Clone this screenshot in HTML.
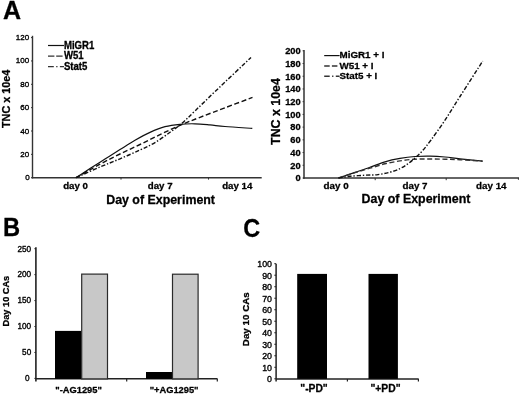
<!DOCTYPE html>
<html><head><meta charset="utf-8"><title>Figure</title>
<style>
html,body{margin:0;padding:0;background:#fff;}
body{width:520px;height:395px;overflow:hidden;}
svg{display:block;font-family:"Liberation Sans", sans-serif;filter:grayscale(1) blur(0.3px);}
svg text{fill:#000;stroke:#000;stroke-width:0.28px;stroke-linejoin:round;}
</style></head>
<body>
<svg width="520" height="395" viewBox="0 0 520 395">
<rect x="0" y="0" width="520" height="395" fill="#fff"/>
<text x="3.00" y="19.20" font-size="25.00" font-weight="bold" text-anchor="start">A</text>
<line x1="32.50" y1="35.80" x2="32.50" y2="178.40" stroke="#333" stroke-width="1.40"/>
<line x1="31.80" y1="177.70" x2="261.70" y2="177.70" stroke="#333" stroke-width="1.40"/>
<line x1="31.00" y1="177.70" x2="32.50" y2="177.70" stroke="#333" stroke-width="1.00"/>
<text x="29.60" y="180.42" font-size="8.00" font-weight="normal" text-anchor="end" style="stroke-width:0.35px">0</text>
<line x1="31.00" y1="154.35" x2="32.50" y2="154.35" stroke="#333" stroke-width="1.00"/>
<text x="29.20" y="156.96" font-size="8.00" font-weight="normal" text-anchor="end" style="stroke-width:0.35px">20</text>
<line x1="31.00" y1="131.00" x2="32.50" y2="131.00" stroke="#333" stroke-width="1.00"/>
<text x="29.20" y="133.50" font-size="8.00" font-weight="normal" text-anchor="end" style="stroke-width:0.35px">40</text>
<line x1="31.00" y1="107.65" x2="32.50" y2="107.65" stroke="#333" stroke-width="1.00"/>
<text x="29.20" y="110.03" font-size="8.00" font-weight="normal" text-anchor="end" style="stroke-width:0.35px">60</text>
<line x1="31.00" y1="84.30" x2="32.50" y2="84.30" stroke="#333" stroke-width="1.00"/>
<text x="29.20" y="86.57" font-size="8.00" font-weight="normal" text-anchor="end" style="stroke-width:0.35px">80</text>
<line x1="31.00" y1="60.95" x2="32.50" y2="60.95" stroke="#333" stroke-width="1.00"/>
<text x="29.20" y="63.10" font-size="8.00" font-weight="normal" text-anchor="end" style="stroke-width:0.35px">100</text>
<line x1="31.00" y1="37.60" x2="32.50" y2="37.60" stroke="#333" stroke-width="1.00"/>
<text x="29.20" y="39.64" font-size="8.00" font-weight="normal" text-anchor="end" style="stroke-width:0.35px">120</text>
<line x1="121.00" y1="177.70" x2="121.00" y2="179.60" stroke="#333" stroke-width="1.00"/>
<line x1="208.50" y1="177.70" x2="208.50" y2="179.60" stroke="#333" stroke-width="1.00"/>
<text x="75.60" y="189.20" font-size="9.70" font-weight="bold" text-anchor="middle">day 0</text>
<text x="160.20" y="189.20" font-size="9.70" font-weight="bold" text-anchor="middle">day 7</text>
<text x="237.30" y="189.20" font-size="9.70" font-weight="bold" text-anchor="middle">day 14</text>
<text x="160.60" y="204.20" font-size="12.40" font-weight="bold" text-anchor="middle">Day of Experiment</text>
<text x="0" y="0" font-size="10.80" font-weight="bold" text-anchor="middle" transform="translate(10.40,98.90) rotate(-90)">TNC x 10e4</text>
<line x1="48.00" y1="45.50" x2="64.00" y2="45.50" stroke="#111" stroke-width="1.20"/>
<line x1="48.00" y1="56.10" x2="64.00" y2="56.10" stroke="#333" stroke-width="1.40" stroke-dasharray="6.4,1.8"/>
<line x1="48.00" y1="66.60" x2="64.00" y2="66.60" stroke="#333" stroke-width="1.40" stroke-dasharray="5.8,2.4,1.3,2.4"/>
<text x="0" y="0" font-size="9.60" font-weight="bold" text-anchor="start" transform="translate(63.90,48.50) scale(1.000,1.060)">MiGR1</text>
<text x="0" y="0" font-size="9.60" font-weight="bold" text-anchor="start" transform="translate(63.90,59.40) scale(1.000,1.060)">W51</text>
<text x="0" y="0" font-size="9.60" font-weight="bold" text-anchor="start" transform="translate(63.90,70.10) scale(1.000,1.060)">Stat5</text>
<path d="M76.00,177.70 C78.33,176.18 85.17,171.70 90.00,168.60 C94.83,165.50 100.00,162.27 105.00,159.10 C110.00,155.93 115.00,152.73 120.00,149.60 C125.00,146.47 130.00,143.17 135.00,140.30 C140.00,137.43 145.00,134.67 150.00,132.40 C155.00,130.13 160.00,128.05 165.00,126.70 C170.00,125.35 175.00,124.78 180.00,124.30 C185.00,123.82 190.00,123.70 195.00,123.80 C200.00,123.90 205.00,124.45 210.00,124.90 C215.00,125.35 217.95,125.92 225.00,126.50 C232.05,127.08 247.75,128.08 252.30,128.40" fill="none" stroke="#111" stroke-width="1.2"/>
<path d="M76.00,177.70 C80.00,175.45 92.67,168.15 100.00,164.20 C107.33,160.25 113.33,157.28 120.00,154.00 C126.67,150.72 133.33,147.73 140.00,144.50 C146.67,141.27 153.33,137.80 160.00,134.60 C166.67,131.40 173.33,128.18 180.00,125.30 C186.67,122.42 192.50,120.22 200.00,117.30 C207.50,114.38 216.25,111.12 225.00,107.80 C233.75,104.48 247.92,99.13 252.50,97.40" fill="none" stroke="#111" stroke-width="1.4" stroke-dasharray="5,2.6"/>
<path d="M76.00,177.70 C80.00,175.92 92.67,170.15 100.00,167.00 C107.33,163.85 113.33,161.63 120.00,158.80 C126.67,155.97 134.17,152.70 140.00,150.00 C145.83,147.30 150.00,145.55 155.00,142.60 C160.00,139.65 165.50,135.52 170.00,132.30 C174.50,129.08 177.83,126.87 182.00,123.30 C186.17,119.73 189.50,116.18 195.00,110.90 C200.50,105.62 205.67,100.52 215.00,91.60 C224.33,82.68 245.00,63.10 251.00,57.40" fill="none" stroke="#111" stroke-width="1.4" stroke-dasharray="4.2,1.8,1.4,1.8"/>
<line x1="304.00" y1="50.00" x2="304.00" y2="178.80" stroke="#555" stroke-width="1.80"/>
<line x1="303.20" y1="178.00" x2="519.00" y2="178.00" stroke="#333" stroke-width="1.60"/>
<line x1="302.60" y1="178.00" x2="304.00" y2="178.00" stroke="#333" stroke-width="1.00"/>
<text x="300.70" y="181.33" font-size="9.30" font-weight="bold" text-anchor="end">0</text>
<line x1="302.60" y1="165.28" x2="304.00" y2="165.28" stroke="#333" stroke-width="1.00"/>
<text x="300.70" y="168.61" font-size="9.30" font-weight="bold" text-anchor="end">20</text>
<line x1="302.60" y1="152.56" x2="304.00" y2="152.56" stroke="#333" stroke-width="1.00"/>
<text x="300.70" y="155.89" font-size="9.30" font-weight="bold" text-anchor="end">40</text>
<line x1="302.60" y1="139.84" x2="304.00" y2="139.84" stroke="#333" stroke-width="1.00"/>
<text x="300.70" y="143.17" font-size="9.30" font-weight="bold" text-anchor="end">60</text>
<line x1="302.60" y1="127.12" x2="304.00" y2="127.12" stroke="#333" stroke-width="1.00"/>
<text x="300.70" y="130.45" font-size="9.30" font-weight="bold" text-anchor="end">80</text>
<line x1="302.60" y1="114.40" x2="304.00" y2="114.40" stroke="#333" stroke-width="1.00"/>
<text x="300.70" y="117.73" font-size="9.30" font-weight="bold" text-anchor="end">100</text>
<line x1="302.60" y1="101.68" x2="304.00" y2="101.68" stroke="#333" stroke-width="1.00"/>
<text x="300.70" y="105.01" font-size="9.30" font-weight="bold" text-anchor="end">120</text>
<line x1="302.60" y1="88.96" x2="304.00" y2="88.96" stroke="#333" stroke-width="1.00"/>
<text x="300.70" y="92.29" font-size="9.30" font-weight="bold" text-anchor="end">140</text>
<line x1="302.60" y1="76.24" x2="304.00" y2="76.24" stroke="#333" stroke-width="1.00"/>
<text x="300.70" y="79.57" font-size="9.30" font-weight="bold" text-anchor="end">160</text>
<line x1="302.60" y1="63.52" x2="304.00" y2="63.52" stroke="#333" stroke-width="1.00"/>
<text x="300.70" y="66.85" font-size="9.30" font-weight="bold" text-anchor="end">180</text>
<line x1="302.60" y1="50.80" x2="304.00" y2="50.80" stroke="#333" stroke-width="1.00"/>
<text x="300.70" y="54.13" font-size="9.30" font-weight="bold" text-anchor="end">200</text>
<line x1="375.20" y1="178.00" x2="375.20" y2="180.20" stroke="#333" stroke-width="1.00"/>
<line x1="446.20" y1="178.00" x2="446.20" y2="180.20" stroke="#333" stroke-width="1.00"/>
<line x1="518.40" y1="178.00" x2="518.40" y2="179.80" stroke="#333" stroke-width="1.00"/>
<text x="336.10" y="188.80" font-size="9.80" font-weight="bold" text-anchor="middle">day 0</text>
<text x="415.00" y="188.80" font-size="9.80" font-weight="bold" text-anchor="middle">day 7</text>
<text x="491.30" y="188.80" font-size="9.80" font-weight="bold" text-anchor="middle">day 14</text>
<text x="416.00" y="203.40" font-size="12.40" font-weight="bold" text-anchor="middle">Day of Experiment</text>
<text x="0" y="0" font-size="12.40" font-weight="bold" text-anchor="middle" transform="translate(279.60,111.50) rotate(-90)">TNC x 10e4</text>
<line x1="324.20" y1="55.60" x2="339.60" y2="55.60" stroke="#111" stroke-width="1.20"/>
<line x1="324.20" y1="66.00" x2="339.60" y2="66.00" stroke="#333" stroke-width="1.40" stroke-dasharray="5.5,2.2"/>
<line x1="324.20" y1="76.30" x2="339.60" y2="76.30" stroke="#333" stroke-width="1.40" stroke-dasharray="5.5,2.4,1.3,2.4"/>
<text x="339.50" y="58.30" font-size="9.80" font-weight="bold" text-anchor="start">MiGR1 + I</text>
<text x="339.50" y="68.70" font-size="9.80" font-weight="bold" text-anchor="start">W51 + I</text>
<text x="339.50" y="79.10" font-size="9.80" font-weight="bold" text-anchor="start">Stat5 + I</text>
<path d="M338.50,178.00 C341.25,177.07 349.75,174.18 355.00,172.40 C360.25,170.62 365.00,169.07 370.00,167.30 C375.00,165.53 380.00,163.28 385.00,161.80 C390.00,160.32 395.00,159.28 400.00,158.40 C405.00,157.52 410.00,156.88 415.00,156.50 C420.00,156.12 425.00,156.02 430.00,156.10 C435.00,156.18 440.00,156.53 445.00,157.00 C450.00,157.47 453.73,158.20 460.00,158.90 C466.27,159.60 478.83,160.82 482.60,161.20" fill="none" stroke="#111" stroke-width="1.2"/>
<path d="M338.50,178.00 C341.25,177.12 349.75,174.33 355.00,172.70 C360.25,171.07 365.00,169.68 370.00,168.20 C375.00,166.72 380.00,165.02 385.00,163.80 C390.00,162.58 395.00,161.67 400.00,160.90 C405.00,160.13 410.00,159.52 415.00,159.20 C420.00,158.88 425.00,159.00 430.00,159.00 C435.00,159.00 440.00,159.08 445.00,159.20 C450.00,159.32 453.73,159.37 460.00,159.70 C466.27,160.03 478.83,160.95 482.60,161.20" fill="none" stroke="#333" stroke-width="1.4" stroke-dasharray="5,2.6"/>
<path d="M338.50,178.00 C340.42,177.72 345.58,176.77 350.00,176.30 C354.42,175.83 360.33,175.48 365.00,175.20 C369.67,174.92 373.83,175.10 378.00,174.60 C382.17,174.10 386.33,173.20 390.00,172.20 C393.67,171.20 397.00,170.02 400.00,168.60 C403.00,167.18 405.50,165.47 408.00,163.70 C410.50,161.93 412.67,160.07 415.00,158.00 C417.33,155.93 419.33,154.30 422.00,151.30 C424.67,148.30 427.17,145.18 431.00,140.00 C434.83,134.82 440.17,127.45 445.00,120.20 C449.83,112.95 453.72,106.35 460.00,96.50 C466.28,86.65 478.92,67.00 482.70,61.10" fill="none" stroke="#111" stroke-width="1.4" stroke-dasharray="4.2,1.8,1.4,1.8"/>
<text x="0" y="0" font-size="25.00" font-weight="bold" text-anchor="start" transform="translate(2.90,235.90) scale(0.950,1.000)">B</text>
<line x1="35.90" y1="247.30" x2="35.90" y2="381.40" stroke="#222" stroke-width="1.60"/>
<line x1="35.90" y1="378.70" x2="217.60" y2="378.70" stroke="#222" stroke-width="1.60"/>
<line x1="34.40" y1="378.40" x2="35.90" y2="378.40" stroke="#222" stroke-width="1.00"/>
<text x="29.60" y="381.24" font-size="8.20" font-weight="normal" text-anchor="end" style="stroke-width:0.35px">0</text>
<line x1="34.40" y1="352.46" x2="35.90" y2="352.46" stroke="#222" stroke-width="1.00"/>
<text x="31.20" y="355.30" font-size="8.20" font-weight="normal" text-anchor="end" style="stroke-width:0.35px">50</text>
<line x1="34.40" y1="326.52" x2="35.90" y2="326.52" stroke="#222" stroke-width="1.00"/>
<text x="31.20" y="329.36" font-size="8.20" font-weight="normal" text-anchor="end" style="stroke-width:0.35px">100</text>
<line x1="34.40" y1="300.58" x2="35.90" y2="300.58" stroke="#222" stroke-width="1.00"/>
<text x="31.20" y="303.42" font-size="8.20" font-weight="normal" text-anchor="end" style="stroke-width:0.35px">150</text>
<line x1="34.40" y1="274.64" x2="35.90" y2="274.64" stroke="#222" stroke-width="1.00"/>
<text x="31.20" y="277.48" font-size="8.20" font-weight="normal" text-anchor="end" style="stroke-width:0.35px">200</text>
<line x1="34.40" y1="248.70" x2="35.90" y2="248.70" stroke="#222" stroke-width="1.00"/>
<text x="31.20" y="251.54" font-size="8.20" font-weight="normal" text-anchor="end" style="stroke-width:0.35px">250</text>
<line x1="126.70" y1="378.90" x2="126.70" y2="381.40" stroke="#222" stroke-width="1.20"/>
<line x1="217.30" y1="378.90" x2="217.30" y2="381.40" stroke="#222" stroke-width="1.20"/>
<rect x="55.0" y="330.9" width="26.4" height="48.0" fill="#000"/>
<rect x="81.7" y="274.1" width="25.8" height="104.8" fill="#c8c8c8" stroke="#2a2a2a" stroke-width="1.2"/>
<rect x="146.0" y="372.0" width="26.5" height="6.9" fill="#000"/>
<rect x="172.5" y="274.2" width="25.6" height="104.7" fill="#c8c8c8" stroke="#2a2a2a" stroke-width="1.2"/>
<text x="78.60" y="392.90" font-size="9.30" font-weight="bold" text-anchor="middle">"-AG1295"</text>
<text x="174.10" y="392.90" font-size="9.30" font-weight="bold" text-anchor="middle">"+AG1295"</text>
<text x="0" y="0" font-size="9.20" font-weight="bold" text-anchor="middle" transform="translate(9.40,301.10) rotate(-90)">Day 10 CAs</text>
<text x="0" y="0" font-size="25.50" font-weight="bold" text-anchor="start" transform="translate(243.20,237.00) scale(0.920,1.000)">C</text>
<line x1="276.10" y1="263.80" x2="276.10" y2="381.40" stroke="#222" stroke-width="1.50"/>
<line x1="276.10" y1="378.90" x2="418.70" y2="378.90" stroke="#222" stroke-width="1.50"/>
<line x1="274.30" y1="378.80" x2="276.10" y2="378.80" stroke="#222" stroke-width="1.00"/>
<text x="272.00" y="382.45" font-size="8.80" font-weight="normal" text-anchor="end" style="stroke-width:0.35px">0</text>
<line x1="274.30" y1="367.29" x2="276.10" y2="367.29" stroke="#222" stroke-width="1.00"/>
<text x="272.00" y="370.92" font-size="8.80" font-weight="normal" text-anchor="end" style="stroke-width:0.35px">10</text>
<line x1="274.30" y1="355.78" x2="276.10" y2="355.78" stroke="#222" stroke-width="1.00"/>
<text x="272.00" y="359.39" font-size="8.80" font-weight="normal" text-anchor="end" style="stroke-width:0.35px">20</text>
<line x1="274.30" y1="344.27" x2="276.10" y2="344.27" stroke="#222" stroke-width="1.00"/>
<text x="272.00" y="347.86" font-size="8.80" font-weight="normal" text-anchor="end" style="stroke-width:0.35px">30</text>
<line x1="274.30" y1="332.76" x2="276.10" y2="332.76" stroke="#222" stroke-width="1.00"/>
<text x="272.00" y="336.33" font-size="8.80" font-weight="normal" text-anchor="end" style="stroke-width:0.35px">40</text>
<line x1="274.30" y1="321.25" x2="276.10" y2="321.25" stroke="#222" stroke-width="1.00"/>
<text x="272.00" y="324.80" font-size="8.80" font-weight="normal" text-anchor="end" style="stroke-width:0.35px">50</text>
<line x1="274.30" y1="309.74" x2="276.10" y2="309.74" stroke="#222" stroke-width="1.00"/>
<text x="272.00" y="313.27" font-size="8.80" font-weight="normal" text-anchor="end" style="stroke-width:0.35px">60</text>
<line x1="274.30" y1="298.23" x2="276.10" y2="298.23" stroke="#222" stroke-width="1.00"/>
<text x="272.00" y="301.74" font-size="8.80" font-weight="normal" text-anchor="end" style="stroke-width:0.35px">70</text>
<line x1="274.30" y1="286.72" x2="276.10" y2="286.72" stroke="#222" stroke-width="1.00"/>
<text x="272.00" y="290.21" font-size="8.80" font-weight="normal" text-anchor="end" style="stroke-width:0.35px">80</text>
<line x1="274.30" y1="275.21" x2="276.10" y2="275.21" stroke="#222" stroke-width="1.00"/>
<text x="272.00" y="278.68" font-size="8.80" font-weight="normal" text-anchor="end" style="stroke-width:0.35px">90</text>
<line x1="274.30" y1="263.70" x2="276.10" y2="263.70" stroke="#222" stroke-width="1.00"/>
<text x="272.00" y="267.15" font-size="8.80" font-weight="normal" text-anchor="end" style="stroke-width:0.35px">100</text>
<line x1="347.40" y1="378.90" x2="347.40" y2="381.40" stroke="#222" stroke-width="1.20"/>
<line x1="418.40" y1="378.90" x2="418.40" y2="381.40" stroke="#222" stroke-width="1.20"/>
<rect x="297.2" y="273.9" width="29.8" height="105.0" fill="#000"/>
<rect x="368.5" y="273.9" width="29.4" height="105.0" fill="#000"/>
<text x="314.00" y="392.20" font-size="10.30" font-weight="bold" text-anchor="middle">"-PD"</text>
<text x="385.50" y="392.20" font-size="10.30" font-weight="bold" text-anchor="middle">"+PD"</text>
<text x="0" y="0" font-size="9.80" font-weight="bold" text-anchor="middle" transform="translate(249.30,319.20) rotate(-90)">Day 10 CAs</text>
</svg>
</body></html>
